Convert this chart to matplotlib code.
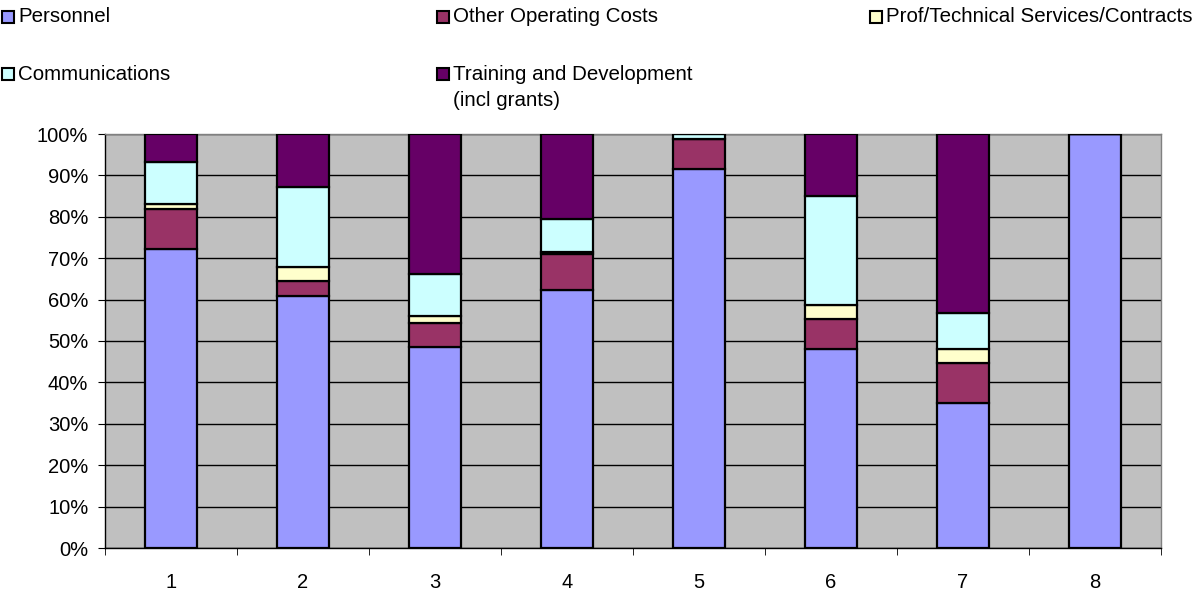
import matplotlib
matplotlib.use("Agg")
import matplotlib.pyplot as plt
from matplotlib.patches import Rectangle
import numpy as np

plt.rcParams['font.family'] = ['Liberation Sans', 'DejaVu Sans']

categories = ["1", "2", "3", "4", "5", "6", "7", "8"]
series_names = ["Personnel", "Other Operating Costs", "Prof/Technical Services/Contracts",
                "Communications", "Training and Development\n(incl grants)"]
personnel = [72.2, 60.8, 48.5, 62.4, 91.5, 48.0, 35.0, 100.0]
other_operating = [9.7, 3.7, 5.8, 8.5, 7.3, 7.2, 9.8, 0.0]
prof_technical = [1.2, 3.3, 1.7, 0.7, 0.1, 3.6, 3.3, 0.0]
communications = [10.1, 19.5, 10.1, 7.9, 1.1, 26.3, 8.6, 0.0]
training = [6.8, 12.7, 33.9, 20.5, 0.0, 14.9, 43.3, 0.0]
colors = ["#9999FF", "#993366", "#FFFFCC", "#CCFFFF", "#660066"]

series = [personnel, other_operating, prof_technical, communications, training]

fig = plt.figure(figsize=(11.98, 5.93), dpi=100)
ax = fig.add_axes([105/1198, 1-548/593, (1161-105)/1198, (548-134)/593])
ax.set_facecolor("#C0C0C0")

x = np.arange(len(categories))
bottom = np.zeros(len(categories))
for vals, col in zip(series, colors):
    v = np.array(vals, dtype=float)
    ax.bar(x, v, bottom=bottom, width=0.4, color=col, edgecolor="black",
           linewidth=1.6, zorder=3)
    bottom += v

ax.set_xlim(-0.5, len(categories) - 0.5)
ax.set_ylim(0, 100)
ax.set_yticks(np.arange(0, 101, 10))
ax.set_yticklabels([f"{t}%" for t in range(0, 101, 10)])
ax.yaxis.grid(True, color="black", linewidth=1.0, zorder=1)
ax.set_axisbelow(True)
ax.set_xticks(x)
ax.set_xticklabels(categories)
ax.set_xticks(np.arange(-0.5, len(categories), 1), minor=True)
ax.tick_params(axis="x", which="major", length=0, pad=18, labelsize=14.5)
ax.tick_params(axis="x", which="minor", length=5, direction="out", color="black")
ax.tick_params(axis="y", length=5, direction="out", labelsize=14.5, pad=7)
for s in ["top", "right"]:
    ax.spines[s].set_color("#808080")
    ax.spines[s].set_linewidth(1.0)
ax.spines["left"].set_color("black")
ax.spines["bottom"].set_color("black")
ax.spines["left"].set_linewidth(1.0)
ax.spines["bottom"].set_linewidth(1.0)

# Legend (manual, Excel style)
W, H = 1198, 593
positions = [(2, 17), (437, 17), (870, 17), (2, 74), (437, 74)]
for (px, py), name, col in zip(positions, series_names, colors):
    sq = 12
    fig.patches.append(Rectangle((px/W, 1-(py+sq/2)/H), sq/W, sq/H,
                                 transform=fig.transFigure, facecolor=col,
                                 edgecolor="black", linewidth=1.5))
    for i, line in enumerate(name.split("\n")):
        fig.text((px+16)/W, 1-(py + 27*i)/H, line, fontsize=14.8,
                 va="center", ha="left")

fig.savefig("out.png", dpi=100)
